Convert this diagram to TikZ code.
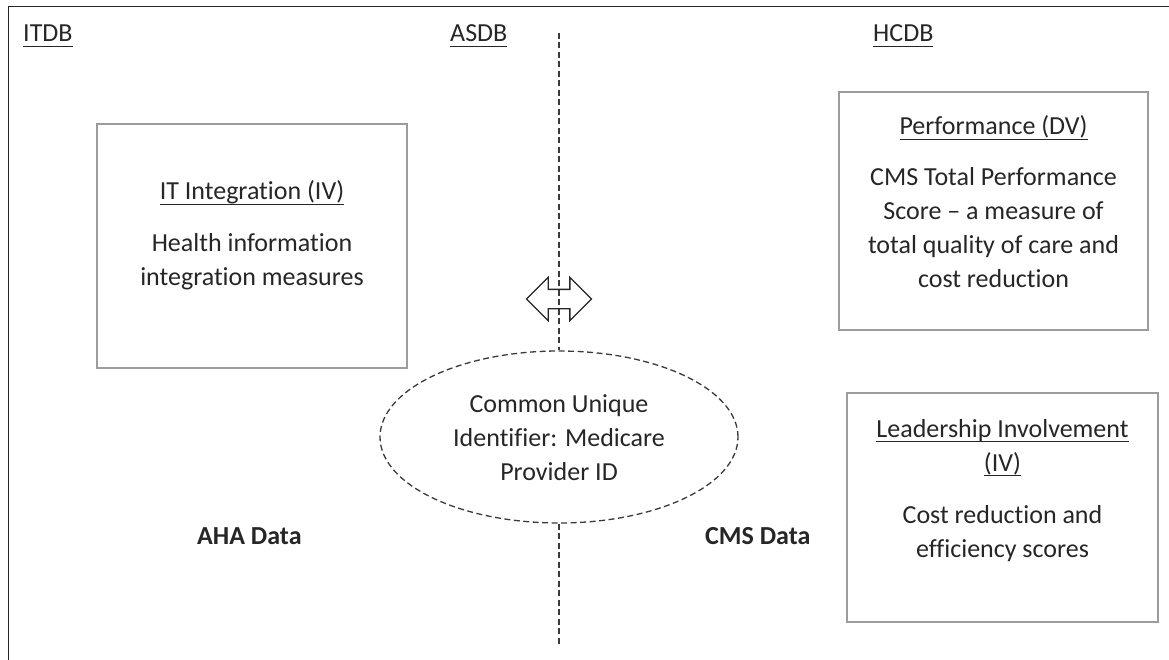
\documentclass[tikz,border=0pt]{standalone}
\usepackage{fontspec}
\setmainfont{Carlito}[Ligatures={TeX,NoCommon}]
\usetikzlibrary{shapes.geometric,shapes.arrows}
\definecolor{ink}{HTML}{262626}
\definecolor{boxgray}{HTML}{9C9C9C}
\definecolor{dashgray}{HTML}{3A3A3A}
% underline at a fixed depth below the baseline
\newcommand\titleul[1]{\setbox0\hbox{#1}\rlap{\rule[-5pt]{\wd0}{1.3pt}}\box0}
% centred lines, baseline of the first line is the node baseline
\newcommand\stack[1]{\begin{tabular}[t]{@{}c@{}}#1\end{tabular}}
\begin{document}
\begin{tikzpicture}[x=1pt,y=-1pt,
  txt/.style={font=\fontsize{26}{34}\selectfont, text=ink, inner sep=0pt},
  lbl/.style={txt, anchor=base west},
  boldlbl/.style={lbl, font=\fontsize{26}{34}\selectfont\bfseries},
  box/.style={draw=boxgray, line width=1.3pt, inner sep=0pt},
  link/.style={draw=dashgray, line width=1.3pt, dash pattern=on 6pt off 3.5pt}]
\useasboundingbox (0,0) rectangle (1169,660);

% open frame: top and left edges only
\draw[line width=1.9pt, black!85] (1169,6.5) -- (8.5,6.5) -- (8.5,660);

% database headings
\node[lbl] (itdb) at (23,42) {\titleul{ITDB}};
\node[lbl] (asdb) at (450,42) {\titleul{ASDB}};
\node[lbl] (hcdb) at (873,42) {\titleul{HCDB}};

% variable boxes
\node[box, minimum width=310pt, minimum height=244pt] (itbox) at (252,246) {};
\node[txt, anchor=base] (ittext) at (252,200)
  {\stack{\titleul{IT Integration (IV)}\\[18pt] Health information\\ integration measures}};

\node[box, minimum width=309pt, minimum height=238pt] (perfbox) at (993.5,211) {};
\node[txt, anchor=base] (perftext) at (993.5,135)
  {\stack{\titleul{Performance (DV)}\\[17pt] CMS Total Performance\\ Score \textendash{} a measure of\\ total quality of care and\\ cost reduction}};

\node[box, minimum width=311pt, minimum height=229pt] (leadbox) at (1002.5,507.5) {};
\node[txt, anchor=base] (leadtext) at (1002.5,437)
  {\stack{\titleul{Leadership Involvement}\\ \titleul{(IV)}\\[18pt] Cost reduction and\\ efficiency scores}};

% common identifier linking the two data sources
\node[ellipse, link, minimum width=358pt, minimum height=172pt, inner sep=0pt] (uid) at (559,437) {};
\node[txt, anchor=base] (uidtext) at (559,412)
  {\stack{Common Unique\\ Identifier: Medicare\\ Provider ID}};

\coordinate (linetop) at (559,33);
\coordinate (linebot) at (559,647);
\draw[link] (linetop) -- (uid.north);
\draw[link] (uid.south) -- (linebot);

\node[double arrow, draw=ink, line width=1.3pt, minimum height=65pt,
      inner xsep=2pt, inner ysep=9pt, double arrow head extend=12pt] (xarrow) at (559,299) {};

% data source labels
\node[boldlbl] (aha) at (197,544) {AHA Data};
\node[boldlbl] (cms) at (705,544) {CMS Data};
\end{tikzpicture}
\end{document}
